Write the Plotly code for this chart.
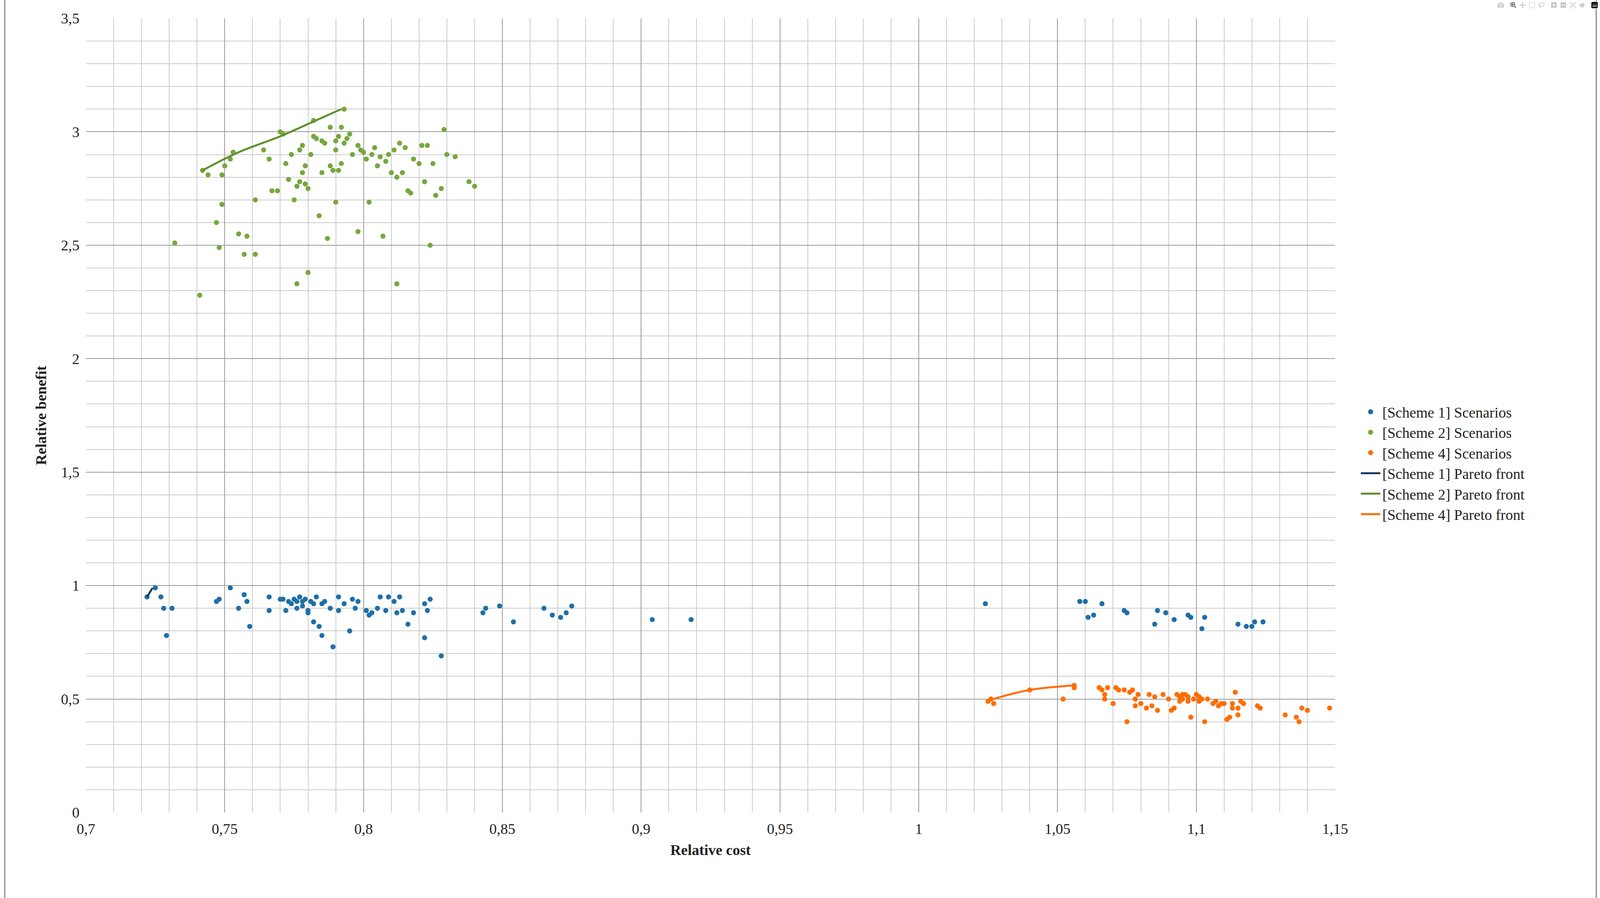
import plotly.graph_objects as go

s1_x = [0.722,0.725,0.727,0.728,0.729,0.731,0.747,0.748,0.752,0.755,0.757,0.758,0.759,0.766,0.766,0.770,0.771,0.772,0.773,0.774,0.775,0.776,0.776,0.777,0.778,0.778,0.779,0.780,0.780,0.781,0.782,0.782,0.783,0.784,0.785,0.785,0.786,0.788,0.789,0.791,0.791,0.793,0.795,0.796,0.797,0.798,0.801,0.802,0.803,0.805,0.806,0.808,0.809,0.811,0.812,0.813,0.814,0.816,0.818,0.822,0.822,0.823,0.824,0.828,0.843,0.844,0.849,0.854,0.865,0.868,0.871,0.873,0.875,0.904,0.918,
        1.024,1.058,1.060,1.061,1.063,1.066,1.074,1.075,1.085,1.086,1.089,1.092,1.097,1.098,1.102,1.103,1.115,1.118,1.120,1.121,1.124]
s1_y = [0.95,0.99,0.95,0.90,0.78,0.90,0.93,0.94,0.99,0.90,0.96,0.93,0.82,0.95,0.89,0.94,0.94,0.89,0.93,0.92,0.94,0.93,0.90,0.95,0.91,0.93,0.94,0.89,0.88,0.93,0.92,0.84,0.95,0.82,0.92,0.78,0.93,0.90,0.73,0.95,0.89,0.92,0.80,0.94,0.90,0.93,0.89,0.87,0.88,0.90,0.95,0.89,0.95,0.93,0.88,0.95,0.89,0.83,0.88,0.92,0.77,0.89,0.94,0.69,0.88,0.90,0.91,0.84,0.90,0.87,0.86,0.88,0.91,0.85,0.85,
        0.92,0.93,0.93,0.86,0.87,0.92,0.89,0.88,0.83,0.89,0.88,0.85,0.87,0.86,0.81,0.86,0.83,0.82,0.82,0.84,0.84]

s2_x = [0.732,0.741,0.742,0.744,0.747,0.748,0.749,0.749,0.750,0.752,0.753,0.755,0.757,0.758,0.761,0.761,0.764,0.766,0.767,0.769,0.770,0.771,0.772,0.773,0.774,0.775,0.776,0.776,0.777,0.777,0.778,0.778,0.779,0.779,0.780,0.780,0.781,0.782,0.782,0.783,0.784,0.785,0.785,0.786,0.787,0.788,0.788,0.789,0.790,0.790,0.790,0.791,0.791,0.792,0.792,0.793,0.793,0.794,0.795,0.796,0.798,0.798,0.799,0.800,0.801,0.802,0.803,0.804,0.805,0.806,0.807,0.808,0.809,0.810,0.811,0.812,0.812,0.813,0.814,0.815,0.816,0.817,0.818,0.820,0.821,0.822,0.823,0.824,0.825,0.826,0.828,0.829,0.830,0.833,0.838,0.840]
s2_y = [2.51,2.28,2.83,2.81,2.60,2.49,2.68,2.81,2.85,2.88,2.91,2.55,2.46,2.54,2.70,2.46,2.92,2.88,2.74,2.74,3.00,2.99,2.86,2.79,2.90,2.70,2.76,2.33,2.92,2.78,2.82,2.94,2.85,2.77,2.38,2.75,2.90,2.98,3.05,2.97,2.63,2.96,2.82,2.95,2.53,2.85,3.02,2.83,2.96,2.92,2.69,2.98,2.83,3.02,2.86,3.10,2.95,2.97,2.99,2.90,2.56,2.94,2.92,2.91,2.88,2.69,2.90,2.93,2.85,2.89,2.54,2.87,2.90,2.82,2.92,2.33,2.80,2.95,2.82,2.93,2.74,2.73,2.88,2.86,2.94,2.78,2.94,2.50,2.86,2.72,2.75,3.01,2.90,2.89,2.78,2.76]

s4_x = [1.025,1.026,1.027,1.040,1.052,1.056,1.056,1.065,1.066,1.067,1.067,1.068,1.070,1.071,1.072,1.074,1.075,1.076,1.077,1.078,1.078,1.079,1.080,1.082,1.083,1.084,1.085,1.086,1.088,1.090,1.091,1.092,1.093,1.094,1.094,1.095,1.095,1.096,1.097,1.097,1.098,1.099,1.100,1.101,1.101,1.102,1.103,1.104,1.106,1.107,1.108,1.109,1.110,1.111,1.112,1.113,1.113,1.114,1.115,1.115,1.116,1.117,1.122,1.123,1.132,1.136,1.137,1.138,1.140,1.148]
s4_y = [0.49,0.50,0.48,0.54,0.50,0.56,0.55,0.55,0.54,0.52,0.50,0.55,0.48,0.55,0.54,0.54,0.40,0.53,0.54,0.47,0.50,0.52,0.48,0.46,0.52,0.47,0.51,0.45,0.52,0.50,0.45,0.46,0.52,0.51,0.49,0.52,0.50,0.52,0.49,0.51,0.42,0.50,0.52,0.49,0.51,0.50,0.40,0.50,0.48,0.49,0.47,0.48,0.48,0.41,0.42,0.48,0.46,0.53,0.46,0.43,0.49,0.48,0.47,0.46,0.43,0.42,0.40,0.46,0.45,0.46]

p1_x = [0.722,0.724]
p1_y = [0.95,0.99]
p2_x = [0.742,0.755,0.770,0.781,0.792]
p2_y = [2.83,2.91,2.98,3.04,3.10]
p4_x = [1.025,1.027,1.040,1.056]
p4_y = [0.49,0.50,0.54,0.56]

BLUE, GREEN, ORANGE, NAVY, DGREEN = "#1f6fa8", "#77a73d", "#ff6d00", "#143c63", "#5e8f2a"
FONT = "Liberation Serif"
FS = 38
ms = 13
fig = go.Figure()
for x, y, c, n in [(s1_x, s1_y, BLUE, "[Scheme 1] Scenarios"), (s2_x, s2_y, GREEN, "[Scheme 2] Scenarios"), (s4_x, s4_y, ORANGE, "[Scheme 4] Scenarios")]:
    fig.add_trace(go.Scatter(x=x, y=y, mode="markers", name=n, marker=dict(color=c, size=ms)))
for x, y, c, n in [(p1_x, p1_y, NAVY, "[Scheme 1] Pareto front"), (p2_x, p2_y, DGREEN, "[Scheme 2] Pareto front"), (p4_x, p4_y, ORANGE, "[Scheme 4] Pareto front")]:
    fig.add_trace(go.Scatter(x=x, y=y, mode="lines", name=n, line=dict(color=c, width=5, shape="spline")))

axcommon = dict(showline=False, zeroline=False, ticks="outside", ticklen=8, tickcolor="white",
                gridcolor="#9a9a9a", gridwidth=2,
                tickfont=dict(size=FS, family=FONT, color="#222"))
fig.update_xaxes(range=[0.7, 1.15], dtick=0.05, tickformat=".2~f",
                 minor=dict(dtick=0.01, showgrid=True, gridcolor="#cccccc", gridwidth=2),
                 title=dict(text="<b>Relative cost</b>", font=dict(size=FS, family=FONT, color="#222"), standoff=20),
                 **axcommon)
fig.update_yaxes(range=[0, 3.5], dtick=0.5, tickformat=".1~f",
                 minor=dict(dtick=0.1, showgrid=True, gridcolor="#cccccc", gridwidth=2),
                 title=dict(text="<b>Relative benefit</b>", font=dict(size=FS, family=FONT, color="#222"), standoff=25),
                 **axcommon)
fig.update_layout(
    autosize=True, separators=", ",
    plot_bgcolor="white", paper_bgcolor="white",
    margin=dict(l=220, r=678, t=47, b=219),
    font=dict(family=FONT, size=FS, color="#222"),
    legend=dict(x=1.019, y=0.44, yanchor="middle", font=dict(size=FS, family=FONT), tracegroupgap=30, itemwidth=50),
    shapes=[dict(type="rect", xref="paper", yref="paper", x0=-0.065, x1=1.209, y0=-0.134, y1=1.024,
                 line=dict(color="#8a8a8a", width=3))],
)
post = ("document.body.style.margin='0';var d=document.getElementsByClassName('plotly-graph-div')[0];"
        "Plotly.relayout(d,{width:window.innerWidth,height:window.innerHeight});")
fig.write_html("out.html", post_script=post)
